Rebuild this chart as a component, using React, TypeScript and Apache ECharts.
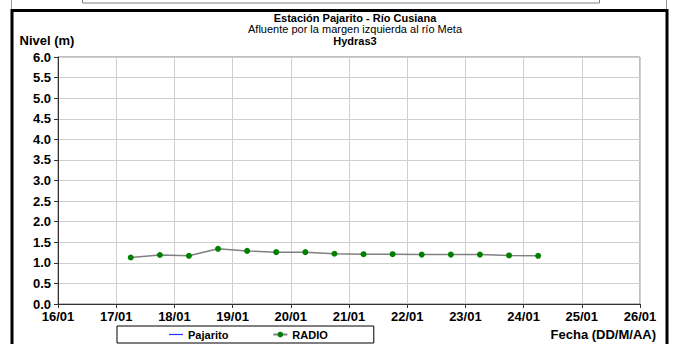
import React, { useEffect, useRef } from "react";
import * as echarts from "echarts";

const titleMain = "Estación Pajarito - Río Cusiana";
const titleSub = "Afluente por la margen izquierda al río Meta";
const titleStation = "Hydras3";
const yAxisName = "Nivel (m)";
const xAxisName = "Fecha (DD/M/AA)";

const dayMin = 16;
const dayMax = 26;
const yMax = 6;
const yStep = 0.5;

const pajaritoTimes: string[] = [];
const pajaritoValues: number[] = [];

const radioTimes = [
  "17/01 06:00", "17/01 18:00", "18/01 06:00", "18/01 18:00", "19/01 06:00",
  "19/01 18:00", "20/01 06:00", "20/01 18:00", "21/01 06:00", "21/01 18:00",
  "22/01 06:00", "22/01 18:00", "23/01 06:00", "23/01 18:00", "24/01 06:00",
];
const radioValues = [1.13, 1.19, 1.17, 1.34, 1.29, 1.26, 1.26, 1.22, 1.21, 1.21, 1.2, 1.2, 1.2, 1.18, 1.17];

const toDay = (s: string) => {
  const [d, t] = s.split(" ");
  const day = parseInt(d.split("/")[0], 10);
  const [h, m] = t.split(":").map((x) => parseInt(x, 10));
  return day + (h + m / 60) / 24;
};

const FONT = "'Liberation Sans', Arial, sans-serif";

export default function App() {
  const ref = useRef<HTMLDivElement>(null);
  useEffect(() => {
    if (!ref.current) return;
    const chart = echarts.init(ref.current, undefined, { renderer: "svg" });
    chart.setOption({
      animation: false,
      backgroundColor: "#ffffff",
      textStyle: { fontFamily: FONT },
      title: [
        { text: titleMain, left: 355, top: 12, textAlign: "center", padding: 0,
          textStyle: { fontFamily: FONT, fontSize: 11, lineHeight: 11, fontWeight: "bold", color: "#000" } },
        { text: titleSub, left: 355, top: 23.5, textAlign: "center", padding: 0,
          textStyle: { fontFamily: FONT, fontSize: 11, lineHeight: 11, fontWeight: "normal", color: "#000" } },
        { text: titleStation, left: 355, top: 35, textAlign: "center", padding: 0,
          textStyle: { fontFamily: FONT, fontSize: 11, lineHeight: 11, fontWeight: "bold", color: "#000" } },
      ],
      legend: {
        left: 117,
        top: 326,
        padding: [3, 46, 3, 52],
        itemGap: 44,
        itemWidth: 14,
        itemHeight: 7,
        borderColor: "#000",
        borderWidth: 1,
        textStyle: { fontFamily: FONT, fontSize: 11, fontWeight: "bold", color: "#000" },
        data: [
          { name: "Pajarito", icon: "path://M0,3 L18,3 L18,4.6 L0,4.6 Z" },
          { name: "RADIO" },
        ],
      },
      grid: {
        left: 58, top: 57, width: 582, height: 247,
        show: true, borderColor: "#808080", borderWidth: 1,
        containLabel: false,
      },
      xAxis: {
        type: "value",
        min: dayMin,
        max: dayMax,
        interval: 1,
        name: xAxisName,
        nameLocation: "end",
        nameGap: 16,
        nameTextStyle: { fontFamily: FONT, fontSize: 13, fontWeight: "bold", color: "#000",
          align: "right", verticalAlign: "top", padding: [24, 0, 0, 0] },
        axisLine: { show: true, lineStyle: { color: "#333", width: 1 } },
        axisTick: { show: true, inside: false, length: 4, lineStyle: { color: "#333" } },
        axisLabel: {
          fontFamily: FONT, fontSize: 13, fontWeight: "bold", color: "#000", margin: 6,
          formatter: (v: number) => `${String(Math.round(v)).padStart(2, "0")}/01`,
        },
        splitLine: { show: true, lineStyle: { color: "#cfcfcf", width: 1 } },
      },
      yAxis: {
        type: "value",
        min: 0,
        max: yMax,
        interval: yStep,
        name: yAxisName,
        nameLocation: "end",
        nameGap: 10,
        nameTextStyle: { fontFamily: FONT, fontSize: 13, fontWeight: "bold", color: "#000",
          align: "center", padding: [0, 22, 0, 0] },
        axisLine: { show: true, lineStyle: { color: "#333", width: 1 } },
        axisTick: { show: true, inside: false, length: 4, lineStyle: { color: "#333" } },
        axisLabel: {
          fontFamily: FONT, fontSize: 13, fontWeight: "bold", color: "#000", margin: 7,
          formatter: (v: number) => v.toFixed(1),
        },
        splitLine: { show: true, lineStyle: { color: "#cfcfcf", width: 1 } },
      },
      graphic: [
        { type: "rect", shape: { x: 82.5, y: -10, width: 517, height: 13 },
          style: { fill: "none", stroke: "#808080", lineWidth: 1 } },
        { type: "line", shape: { x1: 11.5, y1: 0, x2: 11.5, y2: 10 }, style: { stroke: "#999", lineWidth: 1 } },
        { type: "line", shape: { x1: 666.5, y1: 0, x2: 666.5, y2: 10 }, style: { stroke: "#999", lineWidth: 1 } },
        { type: "rect", shape: { x: 12, y: 10.5, width: 655, height: 345 },
          style: { fill: "none", stroke: "#000", lineWidth: 3 } },
      ],
      series: [
        {
          name: "Pajarito",
          type: "line",
          symbol: "none",
          itemStyle: { color: "#3333ff" },
          lineStyle: { color: "#3333ff", width: 1.5 },
          data: pajaritoTimes.map((t, i) => [toDay(t), pajaritoValues[i]]),
        },
        {
          name: "RADIO",
          type: "line",
          symbol: "circle",
          symbolSize: 6,
          itemStyle: { color: "#008000", borderWidth: 0 },
          lineStyle: { color: "#808080", width: 1.5 },
          data: radioTimes.map((t, i) => [toDay(t), radioValues[i]]),
        },
      ],
    });
    return () => chart.dispose();
  }, []);
  return (
    <div
      ref={ref}
      style={{ position: "fixed", left: 0, top: 0, width: 674, height: 344, background: "#fff" }}
    />
  );
}
